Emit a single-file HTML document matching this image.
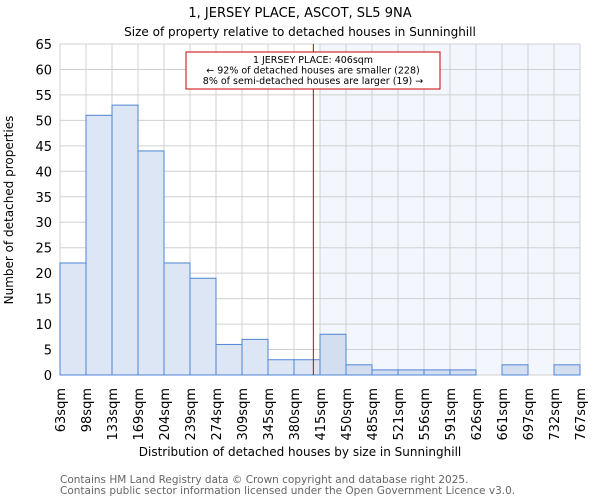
<!DOCTYPE html>
<html><head><meta charset="utf-8"><style>
body{margin:0;background:#fff;font-family:"DejaVu Sans","Liberation Sans",sans-serif;}
</style></head><body>
<svg width="600" height="500" xmlns="http://www.w3.org/2000/svg" font-family="DejaVu Sans, Liberation Sans, sans-serif">
<text x="300" y="17" text-anchor="middle" font-size="13">1, JERSEY PLACE, ASCOT, SL5 9NA</text>
<text x="300" y="36" text-anchor="middle" font-size="12">Size of property relative to detached houses in Sunninghill</text>
<g id="plot"></g>
<text x="300" y="456" text-anchor="middle" font-size="12">Distribution of detached houses by size in Sunninghill</text>
<text transform="translate(13,210) rotate(-90)" text-anchor="middle" font-size="12">Number of detached properties</text>
<text x="60" y="483" font-size="10.5" fill="#666">Contains HM Land Registry data © Crown copyright and database right 2025.</text>
<text x="60" y="494" font-size="10.5" fill="#666">Contains public sector information licensed under the Open Government Licence v3.0.</text>
</svg>
<script>
const binLabels=["63sqm","98sqm","133sqm","169sqm","204sqm","239sqm","274sqm","309sqm","345sqm","380sqm","415sqm","450sqm","485sqm","521sqm","556sqm","591sqm","626sqm","661sqm","697sqm","732sqm","767sqm"];
const counts=[22,51,53,44,22,19,6,7,3,3,8,2,1,1,1,1,0,2,0,2];
const yTicks=[0,5,10,15,20,25,30,35,40,45,50,55,60,65];
const propertySize=406;
const binStart=63, binEnd=767;
const L=60,R=580,T=44,B=375,yMax=65;
const NS="http://www.w3.org/2000/svg";
const g=document.getElementById('plot');
const xs=v=>L+(v-binStart)/(binEnd-binStart)*(R-L);
const xi=i=>L+i*(R-L)/counts.length;
const ys=v=>B-v/yMax*(B-T);
function mk(t,a){const e=document.createElementNS(NS,t);for(const k in a)e.setAttribute(k,a[k]);g.appendChild(e);return e;}
const hx=xi(10);
let e=mk('rect',{x:hx,y:T,width:R-hx,height:B-T,fill:'#f3f6fc'});


for(let i=0;i<=counts.length;i++){e=mk('line',{x1:xi(i),x2:xi(i),y1:T,y2:B,stroke:'#d0d0d0'});

}
yTicks.forEach(v=>{e=mk('line',{x1:L,x2:R,y1:ys(v),y2:ys(v),stroke:'#d0d0d0'});


e=mk('text',{x:L-8,y:ys(v)+5,'text-anchor':'end','font-size':13});e.textContent=v;

});
counts.forEach((c,i)=>{if(c<=0)return;e=mk('rect',{x:xi(i),y:ys(c),width:xi(i+1)-xi(i),height:B-ys(c),fill:i>=10?'#d3dff1':'#dce6f4',stroke:'#4f84d4','stroke-width':1});

});
binLabels.forEach((l,i)=>{const x=xi(i);e=mk('text',{transform:`translate(${x+5},388) rotate(-90)`,'text-anchor':'end','font-size':13});e.textContent=l;

});
const px=xs(propertySize);
e=mk('line',{x1:px,x2:px,y1:T,y2:B,stroke:'#cc0000','stroke-width':1});


e=mk('rect',{x:186,y:52,width:254,height:37,fill:'#fff',stroke:'#cc0000'});


["1 JERSEY PLACE: 406sqm","← 92% of detached houses are smaller (228)","8% of semi-detached houses are larger (19) →"].forEach((t,i)=>{e=mk('text',{x:313,y:63+i*10.5,'text-anchor':'middle','font-size':9.5});e.textContent=t;

});
</script>
</body></html>
